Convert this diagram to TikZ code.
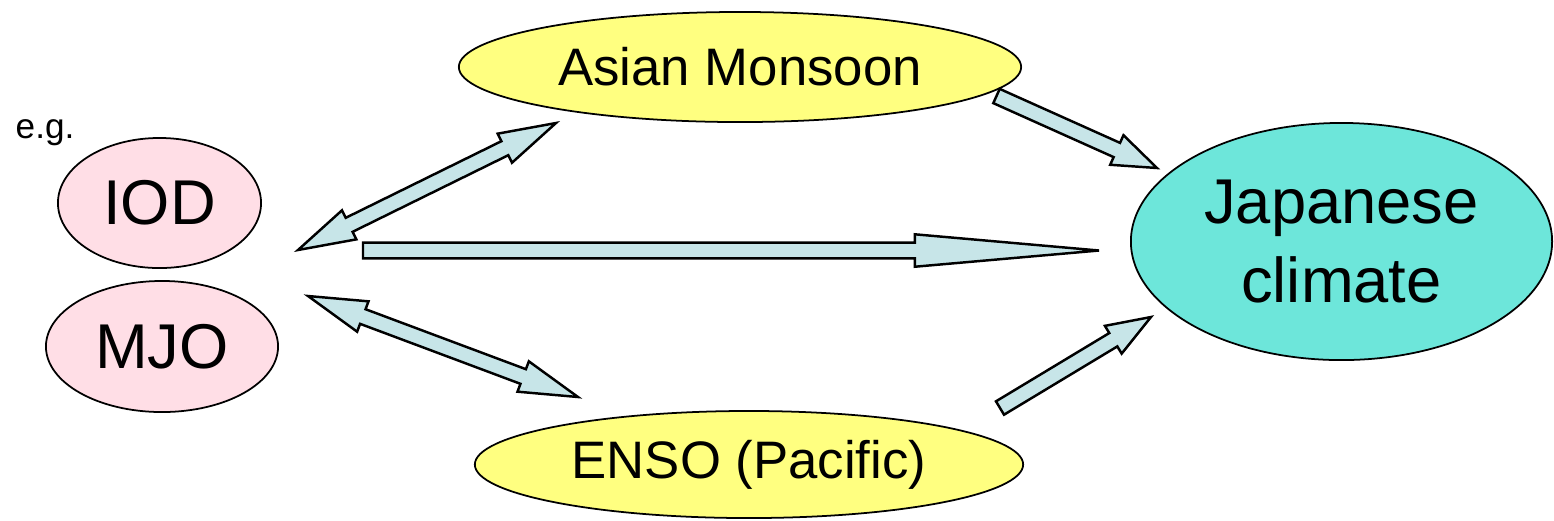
\documentclass[tikz,border=0pt]{standalone}
\usepackage{fontspec}
\setmainfont{Liberation Sans}
\usetikzlibrary{calc,shapes.geometric}

\definecolor{monsoonyellow}{RGB}{255,255,128}
\definecolor{modepink}{RGB}{255,222,230}
\definecolor{climateteal}{RGB}{109,230,218}
\definecolor{arrowblue}{RGB}{199,229,232}

\newcommand{\shaftw}{0.078cm}
\newcommand{\headw}{0.162cm}

% one-headed block arrow: tail, tip, head length
\newcommand{\singleblock}[3]{%
  \coordinate (hb) at ($(#2)!#3!(#1)$);
  \draw[blockarrow]
    ($(#1)!\shaftw!90:(#2)$) -- ($(hb)!\shaftw!90:(#2)$) -- ($(hb)!\headw!90:(#2)$)
    -- (#2)
    -- ($(hb)!\headw!-90:(#2)$) -- ($(hb)!\shaftw!-90:(#2)$) -- ($(#1)!\shaftw!-90:(#2)$)
    -- cycle;
}
% two-headed block arrow: tip, tip, head length
\newcommand{\doubleblock}[3]{%
  \coordinate (ha) at ($(#1)!#3!(#2)$);
  \coordinate (hb) at ($(#2)!#3!(#1)$);
  \draw[blockarrow]
    (#1) -- ($(ha)!\headw!90:(#2)$) -- ($(ha)!\shaftw!90:(#2)$)
    -- ($(hb)!\shaftw!90:(#2)$) -- ($(hb)!\headw!90:(#2)$)
    -- (#2)
    -- ($(hb)!\headw!-90:(#2)$) -- ($(hb)!\shaftw!-90:(#2)$)
    -- ($(ha)!\shaftw!-90:(#2)$) -- ($(ha)!\headw!-90:(#2)$)
    -- cycle;
}

\tikzset{
  oval/.style={ellipse, draw=black, line width=0.5pt, inner sep=0pt, align=center},
  blockarrow/.style={draw=black, fill=arrowblue, line width=0.7pt, line join=miter},
  bigtext/.style={font=\fontsize{18}{22.2}\selectfont},
  midtext/.style={font=\fontsize{15}{18}\selectfont},
}

\begin{document}
\begin{tikzpicture}[x=0.01cm, y=-0.01cm]
  \useasboundingbox (0,0) rectangle (1554,520);

  % regions
  \node[oval, midtext, fill=monsoonyellow, minimum width=5.62cm, minimum height=1.10cm]
    (monsoon) at (740,67) {Asian Monsoon};
  \node[oval, midtext, fill=monsoonyellow, minimum width=5.48cm, minimum height=1.07cm]
    (enso) at (749,464.5) {ENSO (Pacific)};
  \node[oval, bigtext, fill=climateteal, minimum width=4.21cm, minimum height=2.37cm]
    (japan) at (1341.5,241.5) {Japanese\\climate};
  \node[oval, bigtext, fill=modepink, minimum width=2.03cm, minimum height=1.30cm]
    (iod) at (159.5,203) {IOD};
  \node[oval, bigtext, fill=modepink, minimum width=2.32cm, minimum height=1.31cm]
    (mjo) at (162,346.5) {MJO};
  \node[font=\fontsize{10}{12}\selectfont, anchor=base west, inner sep=0pt]
    (eg) at (15,138) {e.g.};

  % arrow end points
  \coordinate (modesUp) at (298,250);
  \coordinate (monsoonIn) at (556,123);
  \coordinate (modesDown) at (308,296);
  \coordinate (ensoIn) at (578,397);
  \coordinate (modesOut) at (363,250.5);
  \coordinate (japanWest) at (1099,250.5);
  \coordinate (monsoonOut) at (996.5,96);
  \coordinate (japanNW) at (1157,168);
  \coordinate (ensoOut) at (1000,408);
  \coordinate (japanSW) at (1151,317);

  % influences
  \doubleblock{modesUp}{monsoonIn}{0.57cm}
  \doubleblock{modesDown}{ensoIn}{0.585cm}
  \singleblock{modesOut}{japanWest}{1.84cm}
  \singleblock{monsoonOut}{japanNW}{0.44cm}
  \singleblock{ensoOut}{japanSW}{0.44cm}
\end{tikzpicture}
\end{document}
